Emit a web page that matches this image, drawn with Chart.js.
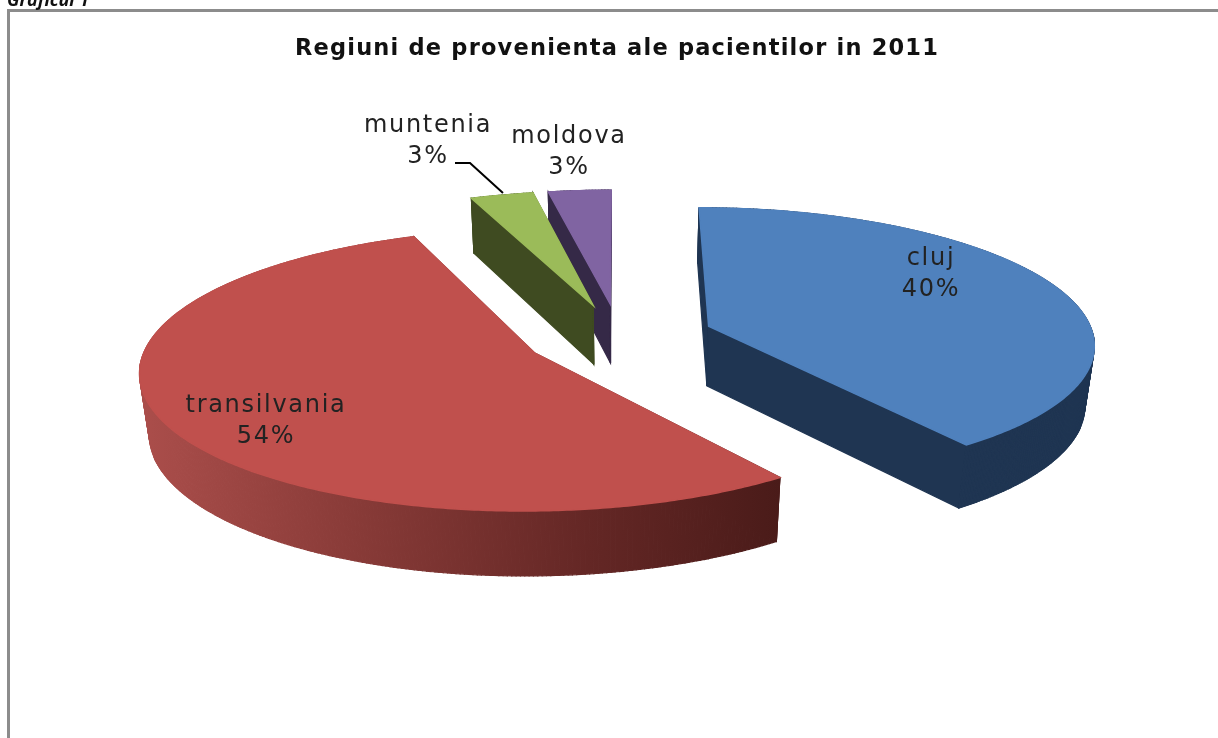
<!DOCTYPE html>
<html>
<head>
<meta charset="utf-8">
<style>html,body{margin:0;padding:0;background:#fff;overflow:hidden}canvas{display:block}</style>
<script src="https://cdn.jsdelivr.net/npm/chart.js@4/dist/chart.umd.min.js"></script>
</head>
<body>
<canvas id="c" width="1218" height="738"></canvas>
<script>
const categories = ['cluj', 'transilvania', 'muntenia', 'moldova'];
const percents = [40, 54, 3, 3];
const topColors = ['#4F81BD', '#C0504D', '#9BBB59', '#8064A2'];
const wallColors = ['#1F3552', null, '#3F4B21', '#352947'];
const titleText = 'Regiuni de provenienta ale pacientilor in 2011';
const captionText = 'Graficul 1';

// Camera of the tilted pie
const view = { ox: 619, oy: 336.5, a: 385, b: 135, k: 0.12, explode: 0.247, depth: 61, zw: 0.02 };
// Label anchors (centre of the two-line label)
const labelCentres = [[931, 274], [266, 421], [428, 141], [569, 152]];

function project(nx, ny, z) {
  const w = 1 - view.k * ny + (z ? view.zw : 0);
  return [view.ox + view.a * nx / w, view.oy + (view.b * ny + (z ? view.depth : 0)) / w];
}

function tracePoly(ctx, pts) {
  ctx.beginPath();
  pts.forEach((p, i) => i ? ctx.lineTo(p[0], p[1]) : ctx.moveTo(p[0], p[1]));
  ctx.closePath();
}

function paintSlice(ctx, el, pts, index) {
  const half = (el.startAngle + el.endAngle) / 2;
  const ex = Math.cos(half) * view.explode, ey = Math.sin(half) * view.explode;
  const norm = pts.map(p => [(p[0] - el.x) / el.outerRadius + ex, (p[1] - el.y) / el.outerRadius + ey]);
  const quads = [];
  for (let i = 0; i < norm.length; i++) {
    const p = norm[i], q = norm[(i + 1) % norm.length];
    quads.push({ p, q, d: (p[1] + q[1]) / 2 });
  }
  quads.sort((u, v) => u.d - v.d);
  let wall = wallColors[index];
  if (!wall) {
    wall = ctx.createLinearGradient(140, 0, 780, 0);
    wall.addColorStop(0, '#AB4E4B');
    wall.addColorStop(0.35, '#873A37');
    wall.addColorStop(0.7, '#642725');
    wall.addColorStop(1, '#4A1B19');
  }
  ctx.save();
  ctx.fillStyle = wall; ctx.strokeStyle = wall; ctx.lineWidth = 1.2;
  quads.forEach(s => {
    tracePoly(ctx, [project(s.p[0], s.p[1], 0), project(s.q[0], s.q[1], 0),
                    project(s.q[0], s.q[1], 1), project(s.p[0], s.p[1], 1)]);
    ctx.fill(); ctx.stroke();
  });
  ctx.restore();
  tracePoly(ctx, norm.map(p => project(p[0], p[1], 0)));
  ctx.fill();
  ctx.save();
  ctx.strokeStyle = ctx.fillStyle; ctx.lineWidth = 1.5;
  ctx.stroke();
  ctx.restore();
}

function projectingContext(ctx, el, index) {
  let pts = [];
  const handlers = {
    beginPath() { pts = []; },
    moveTo(x, y) { pts.push([x, y]); },
    lineTo(x, y) { pts.push([x, y]); },
    closePath() {},
    arc(x, y, r, a0, a1, ccw) {
      if (r <= 0) { pts.push([x, y]); return; }
      const steps = Math.max(2, Math.ceil(Math.abs(a1 - a0) / 0.01));
      for (let i = 0; i <= steps; i++) {
        const t = a0 + (a1 - a0) * i / steps;
        pts.push([x + r * Math.cos(t), y + r * Math.sin(t)]);
      }
    },
    fill() { paintSlice(ctx, el, pts, index); },
    stroke() {},
    clip() {}
  };
  return new Proxy(ctx, {
    get(t, name) {
      if (handlers[name]) return handlers[name];
      const v = t[name];
      return typeof v === 'function' ? v.bind(t) : v;
    },
    set(t, name, v) { t[name] = v; return true; }
  });
}

const tiltedPie = {
  id: 'tiltedPie',
  beforeDraw(chart) {
    const ctx = chart.ctx;
    ctx.save();
    ctx.strokeStyle = '#8C8C8C'; ctx.lineWidth = 3;
    ctx.strokeRect(8.5, 10.5, 1400, 1000);
    ctx.fillStyle = '#111'; ctx.font = 'italic bold 18px "Open Sans"';
    ctx.textAlign = 'left'; ctx.textBaseline = 'alphabetic';
    ctx.fillText(captionText, 7, 6);
    ctx.restore();
    ctx.letterSpacing = '1.2px';
  },
  beforeDatasetDraw(chart, args) {
    const meta = args.meta, ctx = chart.ctx;
    [3, 2, 1, 0].forEach(i => meta.data[i].draw(projectingContext(ctx, meta.data[i], i)));
    return false;
  },
  afterDatasetsDraw(chart) {
    const ctx = chart.ctx;
    ctx.save();
    ctx.strokeStyle = '#000'; ctx.lineWidth = 2;
    ctx.beginPath(); ctx.moveTo(455, 163); ctx.lineTo(470, 163); ctx.lineTo(503, 193); ctx.stroke();
    ctx.fillStyle = '#222'; ctx.font = '24px "DejaVu Sans"';
    ctx.textAlign = 'center'; ctx.textBaseline = 'middle'; ctx.letterSpacing = '1.7px';
    categories.forEach((name, i) => {
      const [x, y] = labelCentres[i];
      ctx.fillText(name, x, y - 15.5);
      ctx.fillText(percents[i] + '%', x, y + 15.5);
    });
    ctx.restore();
  }
};

new Chart(document.getElementById('c'), {
  type: 'pie',
  data: { labels: categories, datasets: [{ data: percents, backgroundColor: topColors, borderWidth: 0 }] },
  options: {
    responsive: false, animation: false, events: [],
    rotation: 0,
    layout: { padding: { left: 16, top: 36 } },
    plugins: {
      legend: { display: false }, tooltip: { enabled: false },
      title: { display: true, text: titleText, color: '#111', padding: 0,
               font: { family: '"DejaVu Sans"', size: 22.5, weight: 'bold' } }
    }
  },
  plugins: [tiltedPie]
});
</script>
</body>
</html>
